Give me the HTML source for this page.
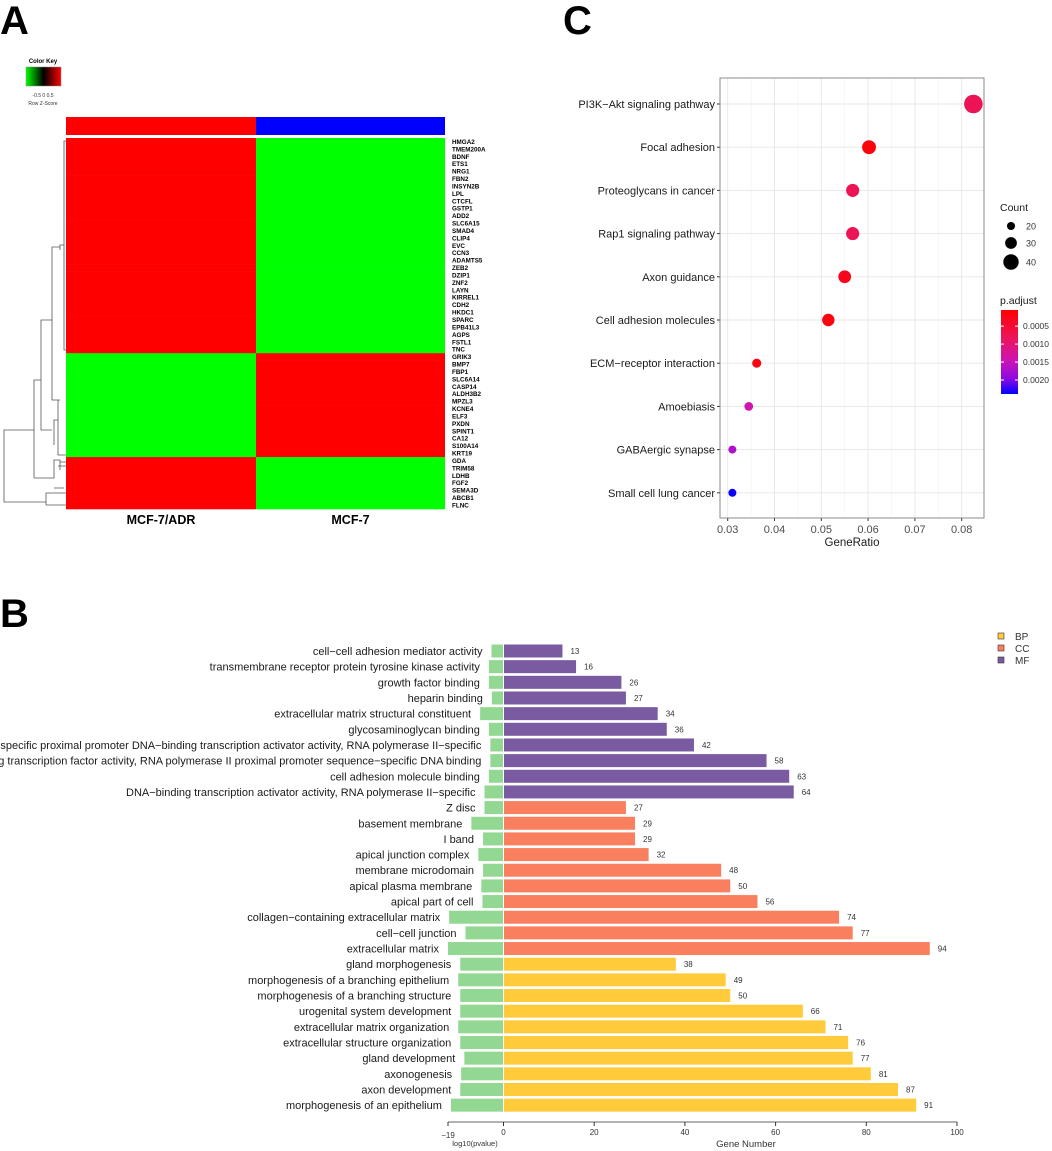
<!DOCTYPE html>
<html><head><meta charset="utf-8"><style>
html,body{margin:0;padding:0;background:#fff;}
svg{display:block;font-family:"Liberation Sans",Arial,sans-serif;}
</style></head><body>
<svg id="fig" width="1052" height="1151" viewBox="0 0 1052 1151">
<text x="0" y="34" font-size="40" font-weight="bold">A</text>
<text x="563" y="34" font-size="40" font-weight="bold">C</text>
<text x="0" y="627" font-size="40" font-weight="bold">B</text>
<g id="panelA"></g>
<g id="panelC"></g>
<g id="panelB"></g>
</svg>
<script>
// ---------- Panel A data ----------
const genes = ["HMGA2","TMEM200A","BDNF","ETS1","NRG1","FBN2","INSYN2B","LPL","CTCFL","GSTP1","ADD2","SLC6A15","SMAD4","CLIP4","EVC","CCN3","ADAMTS5","ZEB2","DZIP1","ZNF2","LAYN","KIRREL1","CDH2","HKDC1","SPARC","EPB41L3","AGPS","FSTL1","TNC","GRIK3","BMP7","FBP1","SLC6A14","CASP14","ALDH3B2","MPZL3","KCNE4","ELF3","PXDN","SPINT1","CA12","S100A14","KRT19","GDA","TRIM58","LDHB","FGF2","SEMA3D","ABCB1","FLNC"];
const samples = ["MCF-7/ADR","MCF-7"];
const zADR = [0.7,0.7,0.7,0.7,0.7,0.7,0.7,0.7,0.7,0.7,0.7,0.7,0.7,0.7,0.7,0.7,0.7,0.7,0.7,0.7,0.7,0.7,0.7,0.7,0.7,0.7,0.7,0.7,0.7,-0.7,-0.7,-0.7,-0.7,-0.7,-0.7,-0.7,-0.7,-0.7,-0.7,-0.7,-0.7,-0.7,-0.7,0.7,0.7,0.7,0.7,0.7,0.7,0.7];
// ---------- Panel C data ----------
const pathways = ["PI3K\u2212Akt signaling pathway","Focal adhesion","Proteoglycans in cancer","Rap1 signaling pathway","Axon guidance","Cell adhesion molecules","ECM\u2212receptor interaction","Amoebiasis","GABAergic synapse","Small cell lung cancer"];
const geneRatio = [0.0825,0.0602,0.0567,0.0567,0.0550,0.0515,0.0362,0.0345,0.0310,0.0310];
const counts = [46,33,31,31,30,29,20,19,17,17];
const padj = [0.0008,0.00015,0.0008,0.0008,0.0003,0.0002,0.0002,0.0014,0.0017,0.00235];
const ratioTicks = [0.03,0.04,0.05,0.06,0.07,0.08];
const padjTicks = [0.0005,0.0010,0.0015,0.0020];
const countLegend = [20,30,40];
// ---------- Panel B data ----------
const goTerms = ["cell\u2212cell adhesion mediator activity","transmembrane receptor protein tyrosine kinase activity","growth factor binding","heparin binding","extracellular matrix structural constituent","glycosaminoglycan binding","RNA polymerase II\u2212specific proximal promoter DNA\u2212binding transcription activator activity, RNA polymerase II\u2212specific","DNA\u2212binding transcription factor activity, RNA polymerase II proximal promoter sequence\u2212specific DNA binding","cell adhesion molecule binding","DNA\u2212binding transcription activator activity, RNA polymerase II\u2212specific","Z disc","basement membrane","I band","apical junction complex","membrane microdomain","apical plasma membrane","apical part of cell","collagen\u2212containing extracellular matrix","cell\u2212cell junction","extracellular matrix","gland morphogenesis","morphogenesis of a branching epithelium","morphogenesis of a branching structure","urogenital system development","extracellular matrix organization","extracellular structure organization","gland development","axonogenesis","axon development","morphogenesis of an epithelium"];
const goCategory = ["MF","MF","MF","MF","MF","MF","MF","MF","MF","MF","CC","CC","CC","CC","CC","CC","CC","CC","CC","CC","BP","BP","BP","BP","BP","BP","BP","BP","BP","BP"];
const geneNumber = [13,16,26,27,34,36,42,58,63,64,27,29,29,32,48,50,56,74,77,94,38,49,50,66,71,76,77,81,87,91];
const negLogP = [4.1,5,5,4,8,5,4.5,4.5,5,6.5,6.5,11,7,8.6,7,7.6,7.2,18.6,13,19,14.8,15.5,14.8,14.8,15.5,14.8,13.4,14.5,14.8,18];
const geneTicks = [0,20,40,60,80,100];
const categories = ["BP","CC","MF"];

const NS="http://www.w3.org/2000/svg";
function mk(parent,tag,attrs,text){const e=document.createElementNS(NS,tag);for(const k in attrs)e.setAttribute(k,attrs[k]);if(text!==undefined)e.textContent=text;parent.appendChild(e);return e;}

// ===== Panel A =====
(function(){
const g=document.getElementById('panelA');
const x0=66,x1=445,y0=138,y1=509,xm=256;
const rh=(y1-y0)/genes.length;
const defs=mk(g,'defs',{});
const lg=mk(defs,'linearGradient',{id:'ck'});
mk(lg,'stop',{offset:'0','stop-color':'#00ff00'});mk(lg,'stop',{offset:'0.5','stop-color':'#000'});mk(lg,'stop',{offset:'1','stop-color':'#ff0000'});
let e=mk(g,'text',{x:43,y:63,'font-size':6,'font-weight':'bold','text-anchor':'middle'},'Color Key');

e=mk(g,'rect',{x:26,y:67,width:35,height:19,fill:'url(#ck)',stroke:'#888','stroke-width':0.5});

mk(g,'text',{x:43,y:97,'font-size':5,'text-anchor':'middle',fill:'#333'},'-0.5  0  0.5');
mk(g,'text',{x:43,y:105,'font-size':5,'text-anchor':'middle',fill:'#333'},'Row Z-Score');
e=mk(g,'rect',{x:x0,y:117,width:xm-x0,height:18,fill:'#ff0000'});

e=mk(g,'rect',{x:xm,y:117,width:x1-xm,height:18,fill:'#0000ff'});

const col=v=>v>0?'#ff0000':'#00ff00';
genes.forEach((gn,i)=>{
  const y=y0+i*rh;
  let c=mk(g,'rect',{x:x0,y:y,width:xm-x0,height:rh+0.3,fill:col(zADR[i])});
  
  c=mk(g,'rect',{x:xm,y:y,width:x1-xm,height:rh+0.3,fill:col(-zADR[i])});
  
  const t=mk(g,'text',{x:452,y:y+rh/2+2.2,'font-size':6.3,'font-weight':'bold'},gn);
  
});
let t=mk(g,'text',{x:(x0+xm)/2,y:524,'font-size':12.5,'font-weight':'bold','text-anchor':'middle'},samples[0]);

t=mk(g,'text',{x:(xm+x1)/2,y:524,'font-size':12.5,'font-weight':'bold','text-anchor':'middle'},samples[1]);

const d=mk(g,'path',{fill:'none',stroke:'#555','stroke-width':0.8,d:
 'M66,141 H64 V350 H66 M64,245 H60 V250 M60,247 H52 V400 H60 M60,400 H58 V455 H66 M58,420 H54 V445 M52,320 H41 V430 H52 M41,380 H34 V478 M34,478 H54 V460 H60 V470 M58,466 H66 M60,462 H66 M54,488 H64 M34,430 H4 V502 H46 V493 H66 M46,505 H66 M46,500 V505'});

})();

// ===== Panel C =====
(function(){
const g=document.getElementById('panelC');
const bx0=720,bx1=984,by0=78,by1=518;
const xs=v=>727.7+(v-0.03)*(961.7-727.7)/0.05;
const ys=i=>104+i*43.2;
const cmin=17,cmax=46,rmin=4,rmax=9.3;
const rs=c=>rmin+(rmax-rmin)*(c-cmin)/(cmax-cmin);
const pmin=0.00005,pmax=0.00239;
const stops=[[0,[255,0,0]],[0.33,[236,20,90]],[0.6,[205,20,180]],[0.82,[140,10,225]],[1,[0,0,255]]];
function pcol(p){const t=Math.max(0,Math.min(1,(p-pmin)/(pmax-pmin)));
 for(let k=1;k<stops.length;k++){if(t<=stops[k][0]){const a=stops[k-1],b=stops[k];const f=(t-a[0])/(b[0]-a[0]);
  const c=a[1].map((v,j)=>Math.round(v+(b[1][j]-v)*f));return `rgb(${c[0]},${c[1]},${c[2]})`;}}
 return 'rgb(0,0,255)';}
mk(g,'rect',{x:bx0,y:by0,width:bx1-bx0,height:by1-by0,fill:'#fff'});
for(let k=0;k<ratioTicks.length;k++){const v=ratioTicks[k]+0.005;if(xs(v)<bx1)mk(g,'line',{x1:xs(v),x2:xs(v),y1:by0,y2:by1,stroke:'#f2f2f2','stroke-width':0.6});}
ratioTicks.forEach(v=>{const l=mk(g,'line',{x1:xs(v),x2:xs(v),y1:by0,y2:by1,stroke:'#e6e6e6','stroke-width':0.9});
 
 mk(g,'line',{x1:xs(v),x2:xs(v),y1:by1,y2:by1+3,stroke:'#333'});
 const t=mk(g,'text',{x:xs(v),y:by1+15,'font-size':11,'text-anchor':'middle',fill:'#4d4d4d'},v.toFixed(2));
 });
pathways.forEach((p,i)=>{mk(g,'line',{x1:bx0,x2:bx1,y1:ys(i),y2:ys(i),stroke:'#e6e6e6','stroke-width':0.9});
 mk(g,'line',{x1:bx0-3,x2:bx0,y1:ys(i),y2:ys(i),stroke:'#333'});
 const t=mk(g,'text',{x:bx0-5,y:ys(i)+4,'font-size':11,'text-anchor':'end',fill:'#1a1a1a'},p);
 });
pathways.forEach((p,i)=>{const c=mk(g,'circle',{cx:xs(geneRatio[i]),cy:ys(i),r:rs(counts[i]),fill:pcol(padj[i])});
 });
const bb=mk(g,'rect',{x:bx0,y:by0,width:bx1-bx0,height:by1-by0,fill:'none',stroke:'#7f7f7f','stroke-width':0.9});

let t=mk(g,'text',{x:852,y:546,'font-size':11.5,'text-anchor':'middle',fill:'#1a1a1a'},'GeneRatio');

t=mk(g,'text',{x:1000,y:211,'font-size':10.5,fill:'#1a1a1a'},'Count');

const lys=[226,243,262];
countLegend.forEach((c,i)=>{const d=mk(g,'circle',{cx:1011,cy:lys[i],r:rs(c)-0.5,fill:'#000'});
 
 const l=mk(g,'text',{x:1026,y:lys[i]+3.5,'font-size':9,fill:'#333'},String(c));
 });
t=mk(g,'text',{x:1000,y:304,'font-size':10.5,fill:'#1a1a1a'},'p.adjust');

const defs=mk(g,'defs',{});const lg=mk(defs,'linearGradient',{id:'pg',x1:0,y1:0,x2:0,y2:1});
stops.forEach(s=>mk(lg,'stop',{offset:String(s[0]),'stop-color':`rgb(${s[1].join(',')})`}));
const cb=mk(g,'rect',{x:1001,y:310,width:17,height:84,fill:'url(#pg)'});

const py=p=>310+(p-pmin)/(pmax-pmin)*84;
padjTicks.forEach(p=>{mk(g,'line',{x1:1001,x2:1004,y1:py(p),y2:py(p),stroke:'#fff'});mk(g,'line',{x1:1015,x2:1018,y1:py(p),y2:py(p),stroke:'#fff'});
 const l=mk(g,'text',{x:1023,y:py(p)+3,'font-size':8.5,fill:'#333'},p.toFixed(4));
 });
})();

// ===== Panel B =====
(function(){
const g=document.getElementById('panelB');
const x0=503.5;
const xp=v=>x0+v*(957-503.5)/100;
const xn=v=>x0-v*(503.5-448)/19;
const yr=i=>651+i*15.66;
const bh=13;
const colors={BP:'#FFCB3A',CC:'#FA7F5E',MF:'#7A5BA1'};
goTerms.forEach((term,i)=>{
 const y=yr(i);
 const t=mk(g,'text',{x:xn(negLogP[i])-9,y:y+4,'font-size':11,'text-anchor':'end',fill:'#1a1a1a'},term);
 
 const n=mk(g,'rect',{x:xn(negLogP[i]),y:y-bh/2,width:x0-xn(negLogP[i])-0.5,height:bh,fill:'#92D892'});
 
 const b=mk(g,'rect',{x:x0+0.5,y:y-bh/2,width:xp(geneNumber[i])-x0-0.5,height:bh,fill:colors[goCategory[i]]});
 
 const v=mk(g,'text',{x:xp(geneNumber[i])+8,y:y+3,'font-size':8,fill:'#333'},String(geneNumber[i]));
 
});
const ay=1122;
const ax=mk(g,'line',{x1:448,x2:957,y1:ay,y2:ay,stroke:'#333','stroke-width':0.8});

mk(g,'line',{x1:448,x2:448,y1:ay,y2:ay+4,stroke:'#333'});
let t=mk(g,'text',{x:448,y:ay+16,'font-size':8,'text-anchor':'middle',fill:'#333'},'\u221219');

geneTicks.forEach(v=>{mk(g,'line',{x1:xp(v),x2:xp(v),y1:ay,y2:ay+4,stroke:'#333'});
 const l=mk(g,'text',{x:xp(v),y:ay+13,'font-size':8,'text-anchor':'middle',fill:'#333'},String(v));
 });
t=mk(g,'text',{x:475,y:1146,'font-size':7.5,'text-anchor':'middle',fill:'#333'},'log10(pvalue)');

t=mk(g,'text',{x:746,y:1147,'font-size':9.5,'text-anchor':'middle',fill:'#333'},'Gene Number');

categories.forEach((c,i)=>{const y=636+i*12;
 const r=mk(g,'rect',{x:998,y:y-3,width:6,height:6,fill:colors[c],stroke:'#333','stroke-width':0.6});
 
 const l=mk(g,'text',{x:1015,y:y+4,'font-size':10,fill:'#333'},c);
 });
})();
</script>
</body></html>
